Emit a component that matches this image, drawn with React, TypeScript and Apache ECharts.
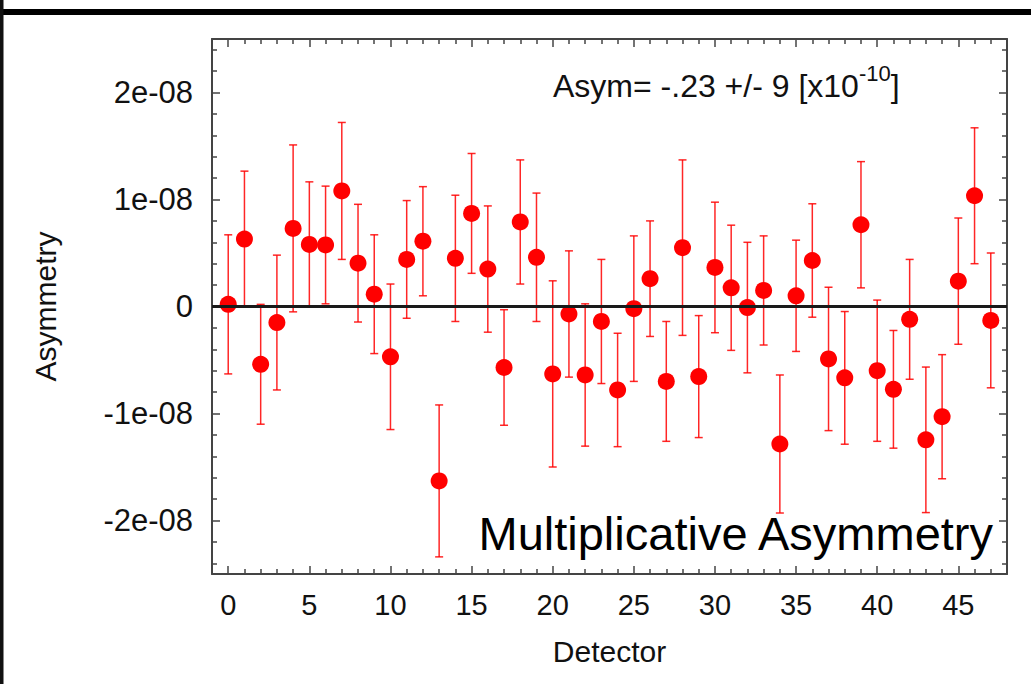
import React, { useEffect, useRef } from "react";
import * as echarts from "echarts";

// Detector index
const detectors: number[] = Array.from({ length: 48 }, (_, i) => i);
// Asymmetry values (units of 1e-8)
const asymValues: number[] = [
  0.02, 0.63, -0.54, -0.15, 0.73, 0.58, 0.575, 1.08, 0.405, 0.115,
  -0.47, 0.44, 0.61, -1.63, 0.45, 0.87, 0.35, -0.57, 0.79, 0.46,
  -0.63, -0.07, -0.64, -0.14, -0.78, -0.02, 0.26, -0.70, 0.55, -0.655,
  0.365, 0.175, -0.01, 0.15, -1.285, 0.10, 0.43, -0.49, -0.667, 0.764,
  -0.60, -0.774, -0.12, -1.246, -1.03, 0.237, 1.035, -0.13,
];
// Symmetric errors (units of 1e-8)
const asymErrors: number[] = [
  0.65, 0.635, 0.56, 0.63, 0.78, 0.585, 0.55, 0.64, 0.55, 0.555,
  0.68, 0.55, 0.51, 0.71, 0.59, 0.56, 0.59, 0.54, 0.58, 0.60,
  0.87, 0.59, 0.665, 0.58, 0.53, 0.68, 0.54, 0.56, 0.82, 0.57,
  0.61, 0.585, 0.61, 0.51, 0.645, 0.52, 0.53, 0.67, 0.62, 0.59,
  0.66, 0.55, 0.56, 0.68, 0.58, 0.59, 0.635, 0.63,
];
const UNIT = 1e-8;

const xMajorTicks: number[] = [0, 5, 10, 15, 20, 25, 30, 35, 40, 45];
const xMinorTicks: number[] = Array.from({ length: 48 }, (_, i) => i).filter((v) => v % 5 !== 0);
const yMajorTicks: number[] = [-2e-8, -1e-8, 0, 1e-8, 2e-8];
const yTickLabels: string[] = ["-2e-08", "-1e-08", "0", "1e-08", "2e-08"];
const yMinorTicks: number[] = [
  -2.4, -2.2, -1.8, -1.6, -1.4, -1.2, -0.8, -0.6, -0.4, -0.2,
  0.2, 0.4, 0.6, 0.8, 1.2, 1.4, 1.6, 1.8, 2.2, 2.4,
].map((v) => v * 1e-8);

const FONT = "'Liberation Sans', Arial, Helvetica, sans-serif";

export default function App() {
  const ref = useRef<HTMLDivElement>(null);
  useEffect(() => {
    if (!ref.current) return;
    const chart = echarts.init(ref.current, undefined, { renderer: "svg" });

    const points = detectors.map((d, i) => [d, asymValues[i] * UNIT]);
    const bars = detectors.map((d, i) => [
      d,
      (asymValues[i] - asymErrors[i]) * UNIT,
      (asymValues[i] + asymErrors[i]) * UNIT,
    ]);

    const frameLine = { show: true, onZero: false, lineStyle: { color: "#444", width: 2 } };
    const noLine = { show: false, onZero: false };
    const baseX = { type: "value", min: -1, max: 48, splitLine: { show: false } };
    const baseY = { type: "value", min: -2.5e-8, max: 2.5e-8, splitLine: { show: false } };
    const tick = (vals: number[], len: number) => ({
      show: true,
      inside: true,
      length: len,
      customValues: vals,
      lineStyle: { color: "#444", width: 1.5 },
    });

    const option: any = {
      animation: false,
      backgroundColor: "#ffffff",
      grid: { left: 212, right: 24, top: 39, bottom: 110, containLabel: false },
      xAxis: [
        {
          ...baseX,
          position: "bottom",
          axisLine: frameLine,
          axisTick: tick(xMajorTicks, 8),
          axisLabel: {
            customValues: xMajorTicks,
            fontSize: 29,
            fontFamily: FONT,
            color: "#111",
            margin: 16,
          },
          name: "Detector",
          nameLocation: "middle",
          nameGap: 62,
          nameTextStyle: { fontSize: 30, fontFamily: FONT, color: "#111" },
        },
        { ...baseX, position: "bottom", axisLine: noLine, axisTick: tick(xMinorTicks, 5), axisLabel: { show: false } },
        { ...baseX, position: "top", axisLine: frameLine, axisTick: tick(xMajorTicks, 8), axisLabel: { show: false } },
        { ...baseX, position: "top", axisLine: noLine, axisTick: tick(xMinorTicks, 5), axisLabel: { show: false } },
      ],
      yAxis: [
        {
          ...baseY,
          position: "left",
          axisLine: frameLine,
          axisTick: tick(yMajorTicks, 8),
          axisLabel: {
            customValues: yMajorTicks,
            fontSize: 31,
            fontFamily: FONT,
            color: "#111",
            margin: 19,
            formatter: (v: number) => {
              const idx = yMajorTicks.findIndex((t) => Math.abs(t - v) < 1e-12);
              return idx >= 0 ? yTickLabels[idx] : "";
            },
          },
          name: "Asymmetry",
          nameLocation: "middle",
          nameGap: 152,
          nameTextStyle: { fontSize: 30, fontFamily: FONT, color: "#111" },
        },
        { ...baseY, position: "left", axisLine: noLine, axisTick: tick(yMinorTicks, 5), axisLabel: { show: false } },
        { ...baseY, position: "right", axisLine: frameLine, axisTick: tick(yMajorTicks, 8), axisLabel: { show: false } },
        { ...baseY, position: "right", axisLine: noLine, axisTick: tick(yMinorTicks, 5), axisLabel: { show: false } },
      ],
      series: [
        {
          type: "custom",
          name: "errors",
          xAxisIndex: 0,
          yAxisIndex: 0,
          data: bars,
          encode: { x: 0, y: [1, 2] },
          z: 2,
          renderItem: (params: any, api: any) => {
            const x = api.value(0);
            const lo = api.coord([x, api.value(1)]);
            const hi = api.coord([x, api.value(2)]);
            const hw = 4;
            const style = { stroke: "rgba(255,0,0,0.85)", lineWidth: 1.5 };
            return {
              type: "group",
              children: [
                { type: "line", shape: { x1: lo[0], y1: lo[1], x2: hi[0], y2: hi[1] }, style },
                { type: "line", shape: { x1: lo[0] - hw, y1: lo[1], x2: lo[0] + hw, y2: lo[1] }, style },
                { type: "line", shape: { x1: hi[0] - hw, y1: hi[1], x2: hi[0] + hw, y2: hi[1] }, style },
              ],
            };
          },
          markLine: {
            silent: true,
            symbol: ["none", "none"],
            label: { show: false },
            lineStyle: { color: "#1a1a1a", width: 2.8, type: "solid" },
            data: [{ yAxis: 0 }],
          },
        },
        {
          type: "scatter",
          name: "asym",
          xAxisIndex: 0,
          yAxisIndex: 0,
          data: points,
          symbol: "circle",
          symbolSize: 17,
          itemStyle: { color: "#ff0000", opacity: 1 },
          z: 3,
        },
      ],
      graphic: [
        { type: "rect", shape: { x: 0, y: 9, width: 1031, height: 6 }, style: { fill: "#000" }, silent: true },
        { type: "rect", shape: { x: 0, y: 0, width: 3.5, height: 684 }, style: { fill: "#111" }, silent: true },
        {
          type: "text",
          x: 553,
          y: 62,
          silent: true,
          style: {
            text: "{a|Asym= -.23 +/- 9 [x10}{s|-10}{a|]}",
            fill: "#111",
            rich: {
              a: { fontSize: 32, fontFamily: FONT, lineHeight: 40, verticalAlign: "bottom", fill: "#111" },
              s: { fontSize: 22, fontFamily: FONT, lineHeight: 24, verticalAlign: "top", fill: "#111" },
            },
          },
        },
        {
          type: "text",
          x: 993,
          y: 533,
          silent: true,
          style: {
            text: "Multiplicative Asymmetry",
            fontSize: 47,
            fontFamily: FONT,
            fill: "#000",
            align: "right",
            verticalAlign: "middle",
          },
        },
      ],
    };
    chart.setOption(option);
    return () => chart.dispose();
  }, []);
  return (
    <div
      ref={ref}
      style={{ position: "absolute", left: 0, top: 0, width: 1031, height: 684, background: "#fff" }}
    />
  );
}
